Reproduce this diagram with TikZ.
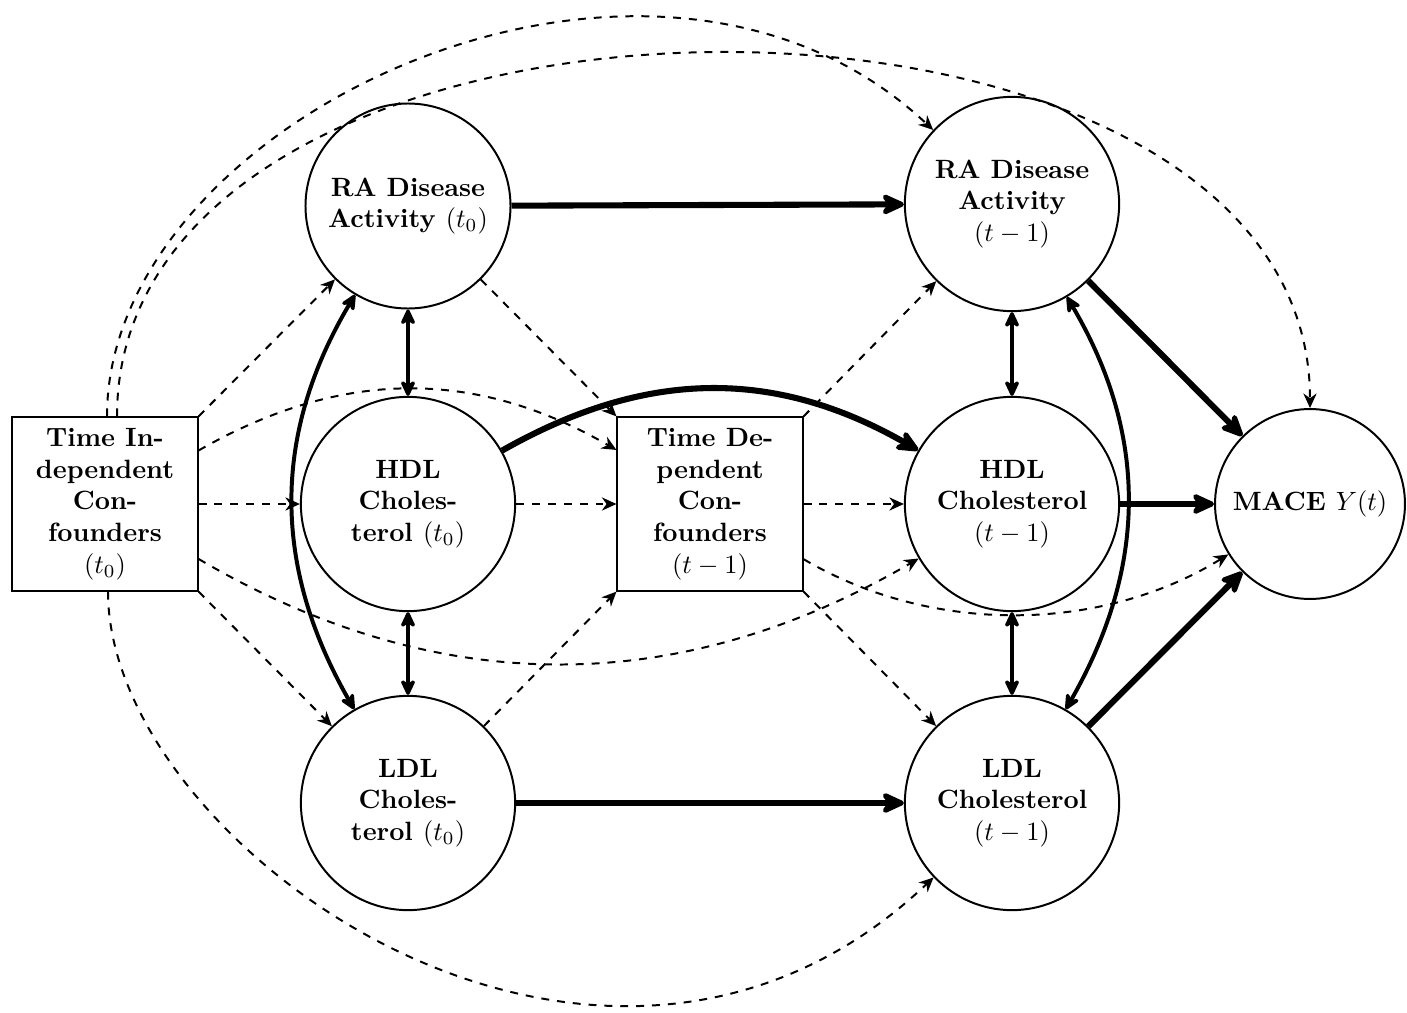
\documentclass[tikz,border=0pt]{standalone}
\usetikzlibrary{arrows.meta,calc}
\tikzset{
 circ/.style={circle, draw, line width=0.75pt, align=center, font=\bfseries, minimum size=81pt, inner sep=1pt},
 boxn/.style={rectangle, draw, line width=0.75pt, align=center, font=\bfseries, minimum width=70pt, minimum height=65.5pt, inner sep=1pt},
 dep/.style={dashed, line width=0.75pt, -{Stealth[length=5.5pt,width=5pt]}},
 strong/.style={line width=2.3pt, -{Stealth[length=11pt,width=10pt,round]}},
 assoc/.style={line width=1.5pt, {Stealth[length=7.5pt,width=7pt,round]}-{Stealth[length=7.5pt,width=7pt,round]}},
}
\begin{document}
\begin{tikzpicture}[x=0.378pt,y=-0.378pt]
\useasboundingbox (0,0) rectangle (1407,1013);
% nodes
\node[boxn] (TI) at (105,504) {Time In-\\dependent\\Con-\\founders\\$(t_0)$};
\node[circ, minimum size=77.5pt] (RA0) at (408,206) {RA Disease\\Activity $(t_0)$};
\node[circ] (HDL0) at (408,504) {HDL\\Choles-\\terol $(t_0)$};
\node[circ] (LDL0) at (408,803) {LDL\\Choles-\\terol $(t_0)$};
\node[boxn] (TD) at (710,504) {Time De-\\pendent\\Con-\\founders\\$(t-1)$};
\node[circ] (RA1) at (1012,204) {RA Disease\\Activity\\$(t-1)$};
\node[circ] (HDL1) at (1012,504) {HDL\\Cholesterol\\$(t-1)$};
\node[circ] (LDL1) at (1012,803) {LDL\\Cholesterol\\$(t-1)$};
\node[circ, minimum size=71.8pt] (MACE) at (1310,504) {MACE $Y(t)$};
% dashed straight
\draw[dep] (TI.north east) -- (RA0);
\draw[dep] (TI) -- (HDL0);
\draw[dep] (TI.south east) -- (LDL0);
\draw[dep] (RA0) -- (TD.north west);
\draw[dep] (HDL0) -- (TD);
\draw[dep] (LDL0) -- (TD.south west);
\draw[dep] (TD.north east) -- (RA1);
\draw[dep] (TD) -- (HDL1);
\draw[dep] (TD.south east) -- (LDL1);
% dashed curves
\draw[dep] (TI) .. controls (339,370) and (473,367) .. (TD);
\draw[dep] (TI) .. controls (437,699) and (678,699) .. (HDL1);
\draw[dep] (TD) .. controls (932,635) and (1101,633) .. (MACE);
\draw[dep] ($(TI.north)+(2,0)$) .. controls (107,117) and (651,-135) .. (RA1);
\draw[dep] ($(TI.north)+(12,0)$) .. controls (117,-63) and (1310,-70) .. (MACE);
\draw[dep] ($(TI.south)+(3,0)$) .. controls (108,847) and (600,1194) .. (LDL1);
% strong arrows
\draw[strong] (RA0) -- (RA1);
\draw[strong] (HDL0) .. controls (644,370) and (773,367) .. (HDL1);
\draw[strong] (LDL0) -- (LDL1);
\draw[strong] (RA1) -- (MACE);
\draw[strong] (HDL1) -- (MACE);
\draw[strong] (LDL1) -- (MACE);
% associations
\draw[assoc] (RA0) -- (HDL0);
\draw[assoc] (HDL0) -- (LDL0);
\draw[assoc] (RA0) .. controls (272,434) and (272,566) .. (LDL0);
\draw[assoc] (RA1) -- (HDL1);
\draw[assoc] (HDL1) -- (LDL1);
\draw[assoc] (RA1) .. controls (1148,434) and (1148,566) .. (LDL1);
\end{tikzpicture}
\end{document}
